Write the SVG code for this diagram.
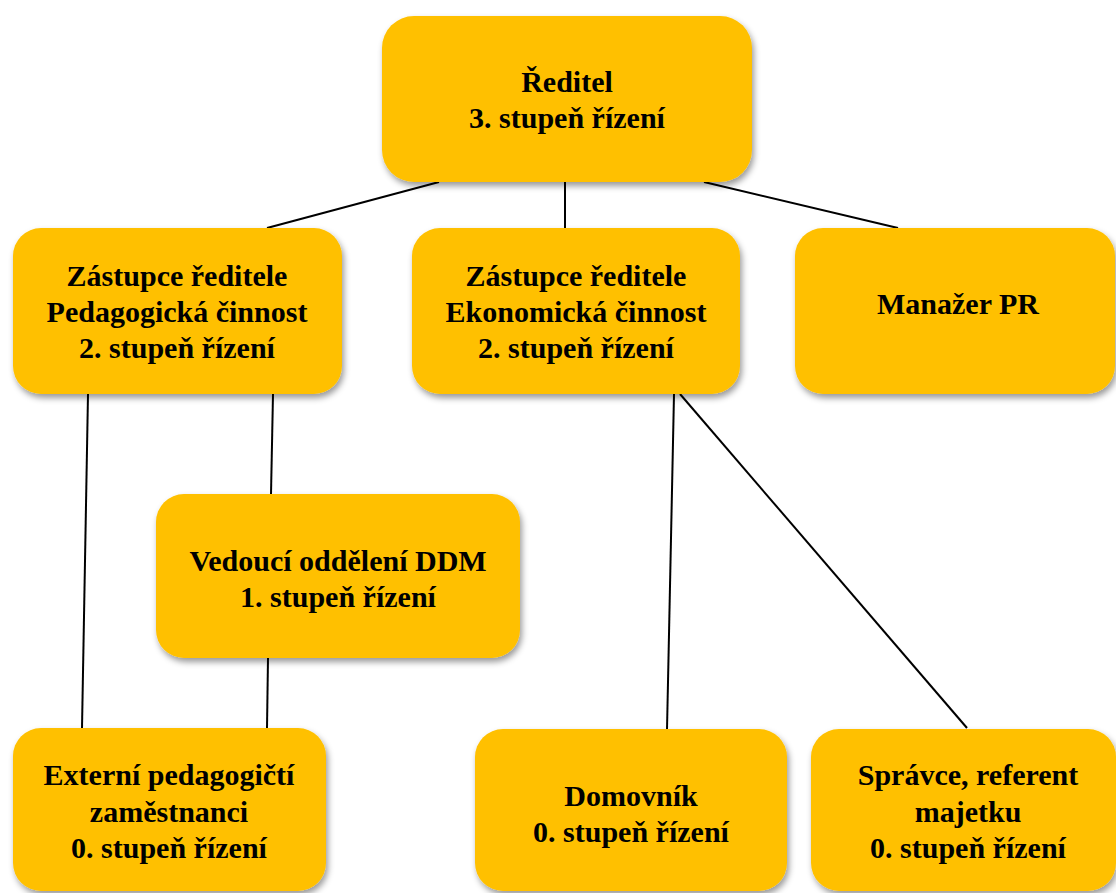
<svg xmlns="http://www.w3.org/2000/svg" width="1116" height="893" viewBox="0 0 1116 893">
<defs>
<filter id="sh" x="-10%" y="-10%" width="120%" height="130%">
<feDropShadow dx="2" dy="4" stdDeviation="3" flood-color="#000" flood-opacity="0.4"/>
</filter>
<style>
.box{fill:#FFC000;filter:url(#sh)}
.t{font-family:'Liberation Serif','Times New Roman','DejaVu Serif',serif;font-weight:700;font-size:30px;fill:#000;text-anchor:middle}
.c{stroke:#000;stroke-width:2;fill:none}
</style>
</defs>
<rect width="1116" height="893" fill="#fff"/>
<g id="connectors">
<line class="c" x1="439" y1="182" x2="267" y2="228"/>
<line class="c" x1="565" y1="182" x2="565" y2="228"/>
<line class="c" x1="704" y1="182" x2="898" y2="228"/>
<line class="c" x1="88" y1="394" x2="82" y2="728"/>
<line class="c" x1="273" y1="394" x2="271" y2="494"/>
<line class="c" x1="268" y1="658" x2="267" y2="728"/>
<line class="c" x1="674" y1="394" x2="667" y2="730"/>
<line class="c" x1="680" y1="394" x2="967" y2="728"/>
</g>
<g id="reditel">
<rect class="box" x="382" y="16" width="370" height="166" rx="32"/>
<text class="t" x="567" y="92">Ředitel</text>
<text class="t" x="567" y="128">3. stupeň řízení</text>
</g>
<g id="zastupce-ped">
<rect class="box" x="13" y="228" width="329" height="166" rx="28"/>
<text class="t" x="177" y="286">Zástupce ředitele</text>
<text class="t" x="177" y="322">Pedagogická činnost</text>
<text class="t" x="177" y="358">2. stupeň řízení</text>
</g>
<g id="zastupce-ekon">
<rect class="box" x="412" y="228" width="328" height="166" rx="28"/>
<text class="t" x="576" y="286">Zástupce ředitele</text>
<text class="t" x="576" y="322">Ekonomická činnost</text>
<text class="t" x="576" y="358">2. stupeň řízení</text>
</g>
<g id="manazer-pr">
<rect class="box" x="795" y="228" width="320" height="166" rx="28"/>
<text class="t" x="958" y="314">Manažer PR</text>
</g>
<g id="vedouci-ddm">
<rect class="box" x="156" y="494" width="364" height="164" rx="28"/>
<text class="t" x="338" y="571">Vedoucí oddělení DDM</text>
<text class="t" x="338" y="607">1. stupeň řízení</text>
</g>
<g id="externi">
<rect class="box" x="13" y="728" width="313" height="163" rx="28"/>
<text class="t" x="169" y="785">Externí pedagogičtí</text>
<text class="t" x="169" y="822">zaměstnanci</text>
<text class="t" x="169" y="858">0. stupeň řízení</text>
</g>
<g id="domovnik">
<rect class="box" x="475" y="729" width="312" height="162" rx="28"/>
<text class="t" x="631" y="806">Domovník</text>
<text class="t" x="631" y="842">0. stupeň řízení</text>
</g>
<g id="spravce">
<rect class="box" x="811" y="729" width="305" height="162" rx="28"/>
<text class="t" x="968" y="785">Správce, referent</text>
<text class="t" x="968" y="822">majetku</text>
<text class="t" x="968" y="858">0. stupeň řízení</text>
</g>
</svg>
